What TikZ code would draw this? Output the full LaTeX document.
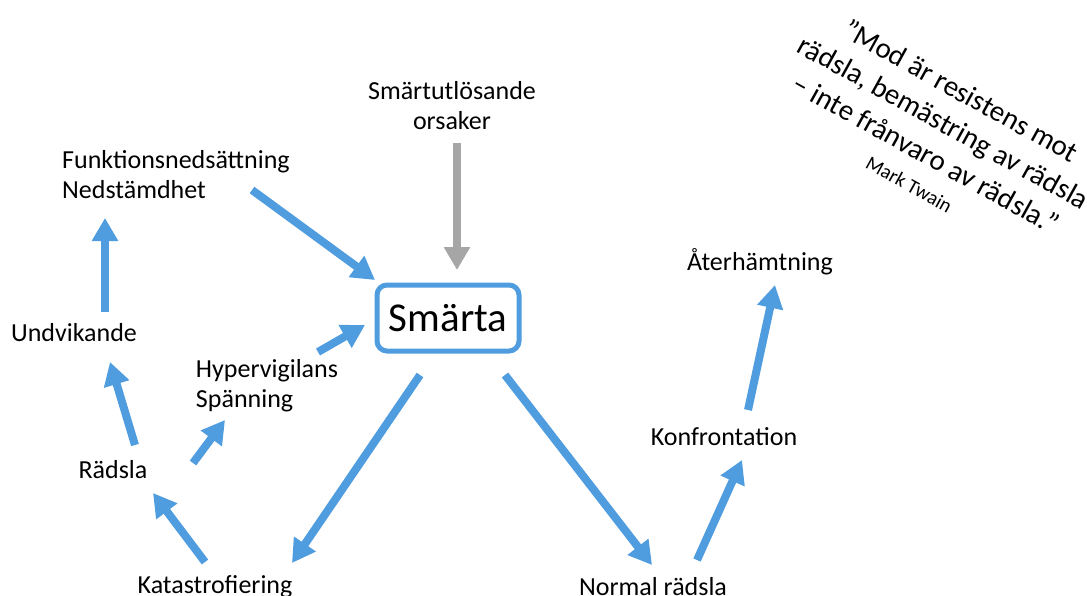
\documentclass[tikz,border=0pt]{standalone}
\usepackage{fontspec}
\setmainfont{Carlito}
\usepackage{xcolor}
\usetikzlibrary{arrows.meta, calc}
\definecolor{flowblue}{RGB}{79,156,222}
\definecolor{causegray}{RGB}{166,166,166}

\begin{document}
\begin{tikzpicture}[x=1pt, y=-1pt,
  word/.style={font=\fontsize{26}{30}\selectfont, inner sep=0pt, align=left},
  core/.style={draw=flowblue, line width=5pt, rounded corners=10pt,
               minimum width=142pt, minimum height=66pt, font=\fontsize{41}{48}\selectfont},
  flow/.style={-{Triangle[length=23pt, width=25pt]}, line width=8pt, draw=flowblue},
  cause/.style={flow, draw=causegray}
]
  \useasboundingbox (0,0) rectangle (1087,595);
  \node[core] (smarta) at (448,318) {Smärta};
  \node[word, align=center] (trig) at (452,106) {Smärtutlösande\\orsaker};
  \node[word] (funk) at (176,175) {Funktionsnedsättning\\Nedstämdhet};
  \node[word] (undv) at (74,333) {Undvikande};
  \node[word] (hyper) at (267,386) {Hypervigilans\\Spänning};
  \node[word] (radsla) at (113,470) {Rädsla};
  \node[word] (kat) at (215,587) {Katastrofiering};
  \node[word] (normal) at (653,587) {Normal rädsla};
  \node[word] (konf) at (724,437) {Konfrontation};
  \node[word] (ater) at (760,262) {Återhämtning};
  \node[rotate=-29, align=center, inner sep=0pt, font=\fontsize{29}{36}\selectfont] (quote) at (936,136)
    {”Mod är resistens mot\\rädsla, bemästring av rädsla\\– inte frånvaro av rädsla.”\\[-4pt]{\fontsize{20}{24}\selectfont Mark Twain}};
  % pilar
  \draw[cause] ($(trig)+(5,37)$) -- ($(smarta)+(9,-48)$);
  \draw[flow] ($(funk)+(76,15)$) -- ($(smarta)+(-73,-38)$);
  \draw[flow] ($(undv)+(31,-21)$) -- ($(funk)+(-71,43)$);
  \draw[flow] ($(radsla)+(22,-25)$) -- ($(undv)+(36,29)$);
  \draw[flow] ($(radsla)+(80,-7)$) -- ($(hyper)+(-42,34)$);
  \draw[flow] ($(hyper)+(51,-34)$) -- ($(smarta)+(-83,7)$);
  \draw[flow] ($(kat)+(-10,-25)$) -- ($(radsla)+(40,23)$);
  \draw[flow] ($(smarta)+(-28,57)$) -- ($(kat)+(77,-24)$);
  \draw[flow] ($(smarta)+(57,57)$) -- ($(normal)+(-1,-22)$);
  \draw[flow] ($(normal)+(44,-27)$) -- ($(konf)+(18,23)$);
  \draw[flow] ($(konf)+(24,-27)$) -- ($(ater)+(15,23)$);
\end{tikzpicture}
\end{document}
